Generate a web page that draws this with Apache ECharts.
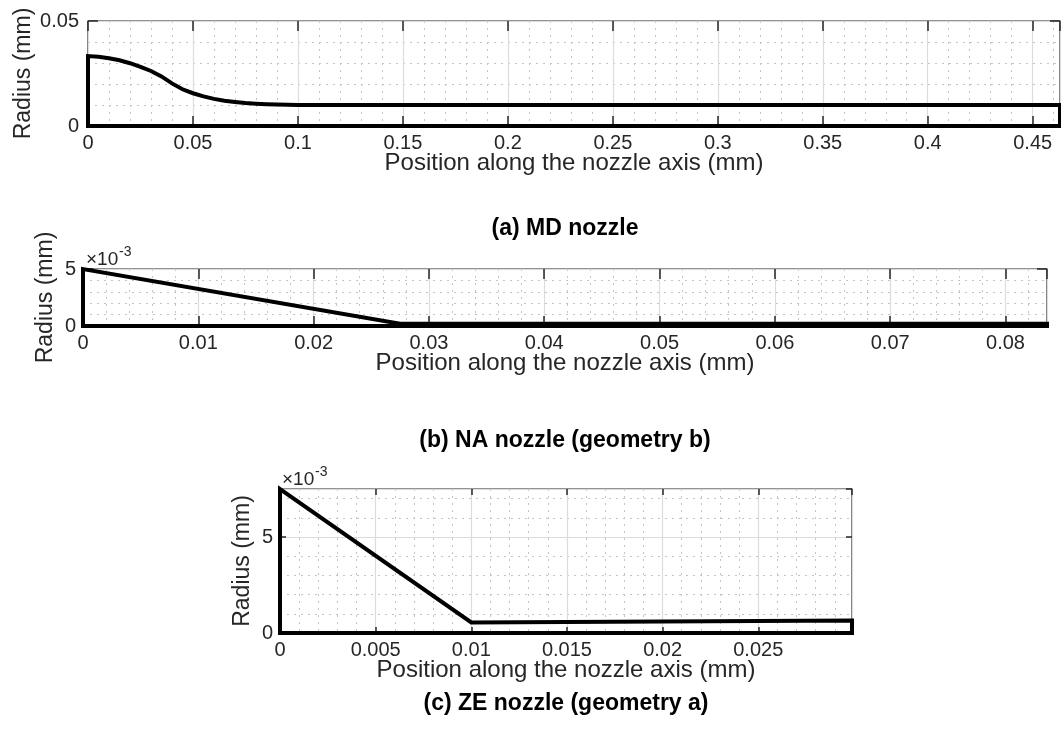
<!DOCTYPE html>
<html>
<head>
<meta charset="utf-8">
<title>Nozzle geometries</title>
<script src="https://cdn.jsdelivr.net/npm/echarts@6/dist/echarts.min.js"></script>
<style>
  html, body { margin: 0; padding: 0; background: #ffffff; }
  #chart { width: 1061px; height: 746px; }
</style>
</head>
<body>
<div id="chart"></div>
<script>
// Nozzle wall profiles: radius (mm) against position along the axis (mm).
// Each outline is closed along the axis and the inlet/outlet planes.

// (a) MD nozzle
const mdX = [0, 0, 0.005, 0.01, 0.015, 0.02, 0.025, 0.03, 0.035, 0.04, 0.045, 0.05,
             0.055, 0.06, 0.065, 0.07, 0.075, 0.08, 0.085, 0.09, 0.095, 0.1, 0.463, 0.463, 0];
const mdR = [0, 0.0333, 0.0330, 0.0323, 0.0313, 0.0299, 0.0282, 0.0262, 0.0236, 0.0203, 0.0175, 0.0156,
             0.0141, 0.0129, 0.0120, 0.0114, 0.0109, 0.0106, 0.0104, 0.0102, 0.0101, 0.0100, 0.0100, 0, 0];

// (b) NA nozzle (geometry b)
const naX = [0, 0, 0.0275, 0.0836, 0.0836, 0];
const naR = [0, 0.005, 0.0002, 0.0002, 0, 0];

// (c) ZE nozzle (geometry a)
const zeX = [0, 0, 0.01, 0.0299, 0.0299, 0];
const zeR = [0, 0.0075, 0.00055, 0.00065, 0, 0];

// Axis ranges and tick spacing [min, max, major, minor]
const mdXAxis = [0, 0.463, 0.05, 0.01];
const mdYAxis = [0, 0.05, 0.05, 0.01];
const naXAxis = [0, 0.0836, 0.01, 0.002];
const naYAxis = [0, 0.005, 0.005, 0.001];
const zeXAxis = [0, 0.0299, 0.005, 0.001];
const zeYAxis = [0, 0.0075, 0.005, 0.001];

const panelTitles = ['(a) MD nozzle', '(b) NA nozzle (geometry b)', '(c) ZE nozzle (geometry a)'];
const xName = 'Position along the nozzle axis (mm)';
const yName = 'Radius (mm)';

const FONT = '"Liberation Sans", Arial, Helvetica, sans-serif';
const INK = '#262626';

const panels = [
  { grid: { left: 88, top: 21, width: 972, height: 105 }, x: mdXAxis, y: mdYAxis, xs: mdX, ys: mdR,
    tick: 10, yGap: 53, yLabelMargin: 9, yScale: 1, showYMax: true, title: panelTitles[0], titleX: 565, titleY: 229 },
  { grid: { left: 83, top: 269, width: 964, height: 57 }, x: naXAxis, y: naYAxis, xs: naX, ys: naR,
    tick: 10, yGap: 26, yLabelMargin: 7, yScale: 1000, showYMax: true, title: panelTitles[1], titleX: 565, titleY: 441 },
  { grid: { left: 280, top: 489, width: 572, height: 144 }, x: zeXAxis, y: zeYAxis, xs: zeX, ys: zeR,
    tick: 6, yGap: 26, yLabelMargin: 7, yScale: 1000, showYMax: false, title: panelTitles[2], titleX: 566, titleY: 704 }
];

const grids = [], xAxes = [], yAxes = [], series = [], graphics = [];

function fmt(v, scale) {
  const s = Math.round(v * scale * 1e6) / 1e6;
  return String(s);
}

panels.forEach((p, gi) => {
  grids.push(Object.assign({
    show: true, borderColor: INK, borderWidth: 1.2, backgroundColor: '#ffffff',
    containLabel: false, outerBoundsMode: 'none'
  }, p.grid));

  const [xmin, xmax, xmaj, xmin2] = p.x;
  const [ymin, ymax, ymaj, ymin2] = p.y;

  // minor dotted grid
  xAxes.push({
    gridIndex: gi, type: 'value', position: 'bottom', min: xmin, max: xmax, interval: xmin2,
    axisLine: { show: false }, axisTick: { show: false }, axisLabel: { show: false },
    splitLine: { show: true, lineStyle: { color: '#c4c4c4', width: 1, type: [2, 5] } }, z: 0
  });
  yAxes.push({
    gridIndex: gi, type: 'value', position: 'left', min: ymin, max: ymax, interval: ymin2,
    axisLine: { show: false }, axisTick: { show: false }, axisLabel: { show: false },
    splitLine: { show: true, lineStyle: { color: '#c4c4c4', width: 1, type: [2, 5] } }, z: 0
  });

  // main axes with labels and major grid
  const xMainIdx = xAxes.length;
  xAxes.push({
    gridIndex: gi, type: 'value', position: 'bottom', min: xmin, max: xmax, interval: xmaj,
    axisLine: { show: false, onZero: false },
    axisTick: { show: true, inside: true, length: p.tick, lineStyle: { color: INK, width: 1.5 } },
    axisLabel: { show: true, color: INK, fontFamily: FONT, fontSize: 20, margin: 7,
                 showMaxLabel: false, formatter: v => fmt(v, 1) },
    splitLine: { show: true, lineStyle: { color: '#dcdcdc', width: 1.2 } },
    name: xName, nameLocation: 'middle', nameGap: 25, nameMoveOverlap: false,
    nameTextStyle: { color: INK, fontFamily: FONT, fontSize: 24 }, z: 1
  });
  const yMainIdx = yAxes.length;
  yAxes.push({
    gridIndex: gi, type: 'value', position: 'left', min: ymin, max: ymax, interval: ymaj,
    axisLine: { show: false, onZero: false },
    axisTick: { show: true, inside: true, length: p.tick, lineStyle: { color: INK, width: 1.5 } },
    axisLabel: { show: true, color: INK, fontFamily: FONT, fontSize: 20, margin: p.yLabelMargin,
                 showMaxLabel: p.showYMax, formatter: v => fmt(v, p.yScale) },
    splitLine: { show: true, lineStyle: { color: '#dcdcdc', width: 1.2 } },
    name: yName, nameLocation: 'middle', nameGap: p.yGap, nameMoveOverlap: false,
    nameTextStyle: { color: INK, fontFamily: FONT, fontSize: 23 }, z: 1
  });

  // mirrored tick marks on the top and right edges
  xAxes.push({
    gridIndex: gi, type: 'value', position: 'top', min: xmin, max: xmax, interval: xmaj,
    axisLine: { show: false, onZero: false },
    axisTick: { show: true, inside: true, length: p.tick, lineStyle: { color: INK, width: 1.5 } },
    axisLabel: { show: false }, splitLine: { show: false }, z: 1
  });
  yAxes.push({
    gridIndex: gi, type: 'value', position: 'right', min: ymin, max: ymax, interval: ymaj,
    axisLine: { show: false, onZero: false },
    axisTick: { show: true, inside: true, length: p.tick, lineStyle: { color: INK, width: 1.5 } },
    axisLabel: { show: false }, splitLine: { show: false }, z: 1
  });

  series.push({
    type: 'line', xAxisIndex: xMainIdx, yAxisIndex: yMainIdx,
    data: p.xs.map((x, i) => [x, p.ys[i]]),
    showSymbol: false, symbol: 'none', clip: false, silent: true, animation: false,
    lineStyle: { color: '#000000', width: 4, join: 'miter', cap: 'square' }, z: 5
  });

  graphics.push({
    type: 'text', x: p.titleX, y: p.titleY,
    style: { text: p.title, fill: '#000000', font: 'bold 23px ' + FONT, align: 'center', verticalAlign: 'middle' }
  });
});

// ×10^-3 exponent markers for the scaled radius axes
[[panels[1].grid.left + 3, panels[1].grid.top], [panels[2].grid.left + 2, panels[2].grid.top]]
  .forEach(([x, y]) => {
    graphics.push({
      type: 'text', x: x, y: y,
      style: { text: '\u00d710', fill: INK, font: '19px ' + FONT, align: 'left', verticalAlign: 'bottom' }
    });
    graphics.push({
      type: 'text', x: x + 33, y: y - 10,
      style: { text: '-3', fill: INK, font: '14px ' + FONT, align: 'left', verticalAlign: 'bottom' }
    });
  });

const chart = echarts.init(document.getElementById('chart'), null, { renderer: 'canvas' });
chart.setOption({
  animation: false,
  backgroundColor: '#ffffff',
  grid: grids,
  xAxis: xAxes,
  yAxis: yAxes,
  series: series,
  graphic: graphics
});
</script>
</body>
</html>
